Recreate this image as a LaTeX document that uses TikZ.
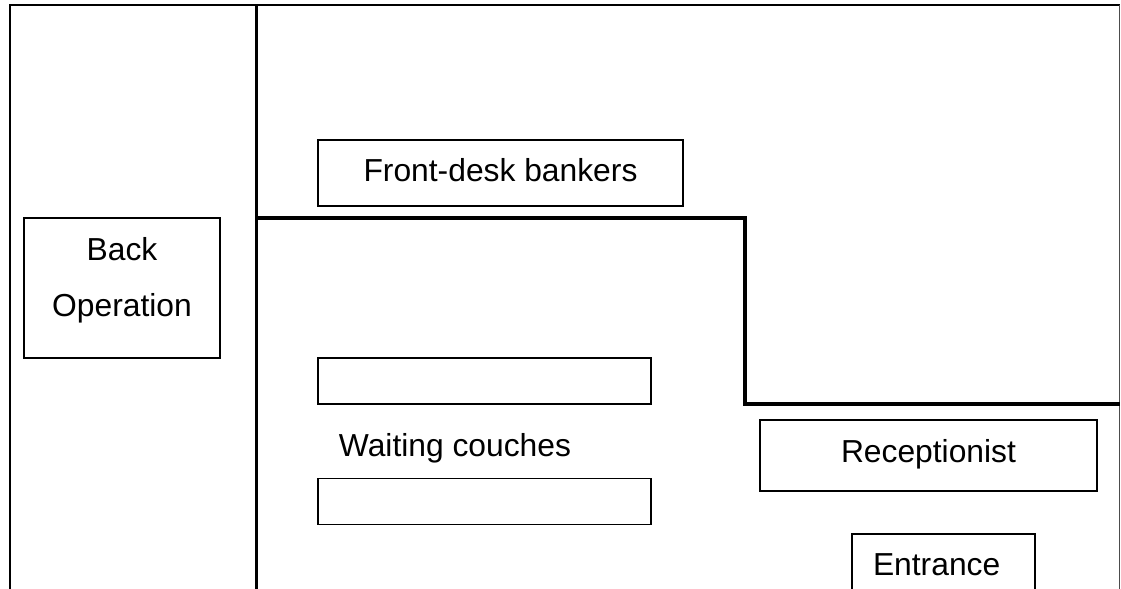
\documentclass[tikz,border=0pt]{standalone}
\usepackage{fontspec}
\usepackage{tikz}
\usetikzlibrary{positioning}
\setmainfont{Liberation Sans}
\newcommand{\lifted}[2]{\raisebox{#1}[\height][\depth]{#2}}

\begin{document}
\begin{tikzpicture}[x=0.5pt,y=-0.5pt,
  roombox/.style={draw,rectangle,line width=0.8pt,inner sep=0pt,font=\fontsize{15.9}{28}\selectfont},
  couchbox/.style={roombox,minimum width=166.5pt,minimum height=23pt},
  wall/.style={line width=1.75pt},
  outerwall/.style={line width=1pt}]
\useasboundingbox (0,0) rectangle (1121,589);
\coordinate (sw) at (9.5,589); \coordinate (nw) at (9.5,5); \coordinate (ne) at (1119.5,5); \coordinate (se) at (1119.5,589);
\coordinate (top) at (256.5,4); \coordinate (bottom) at (256.5,589); \coordinate (deskwall) at (256.5,218); \coordinate (step1) at (745,218); \coordinate (step2) at (745,404); \coordinate (step3) at (1120,404);

\node [roombox, minimum width=182.5pt, minimum height=33pt] (desk) at (500.5,173) {\lifted{1.5pt}{Front-desk bankers}};
\node [roombox, minimum width=98pt, minimum height=70pt, align=center] (back) at (122,288) {\lifted{4pt}{Back}\\\lifted{4pt}{Operation}};
\node [couchbox] (couch1) at (484.5,381) {}; \node [couchbox, below=36.5pt of couch1] (couch2) {};
\node [font=\fontsize{15.9}{28}\selectfont, inner sep=0pt] (waiting) at (455,448) {Waiting couches};
\node [roombox, minimum width=168.5pt, minimum height=35.5pt] (reception) at (928.5,455.5) {\lifted{0.5pt}{Receptionist}};
\node [roombox, text width=70.5pt, inner xsep=10.5pt, minimum height=33pt, align=left] (entrance) at (943.5,567) {\lifted{1pt}{Entrance}};

\draw [outerwall] (sw) -- (nw) -- (ne);
\draw [line width=0.5pt, black!70] (ne) -- (se);
\draw [wall] (top) -- (bottom);
\draw [wall] (deskwall) -- (step1) -- (step2) -- (step3);
\end{tikzpicture}
\end{document}
